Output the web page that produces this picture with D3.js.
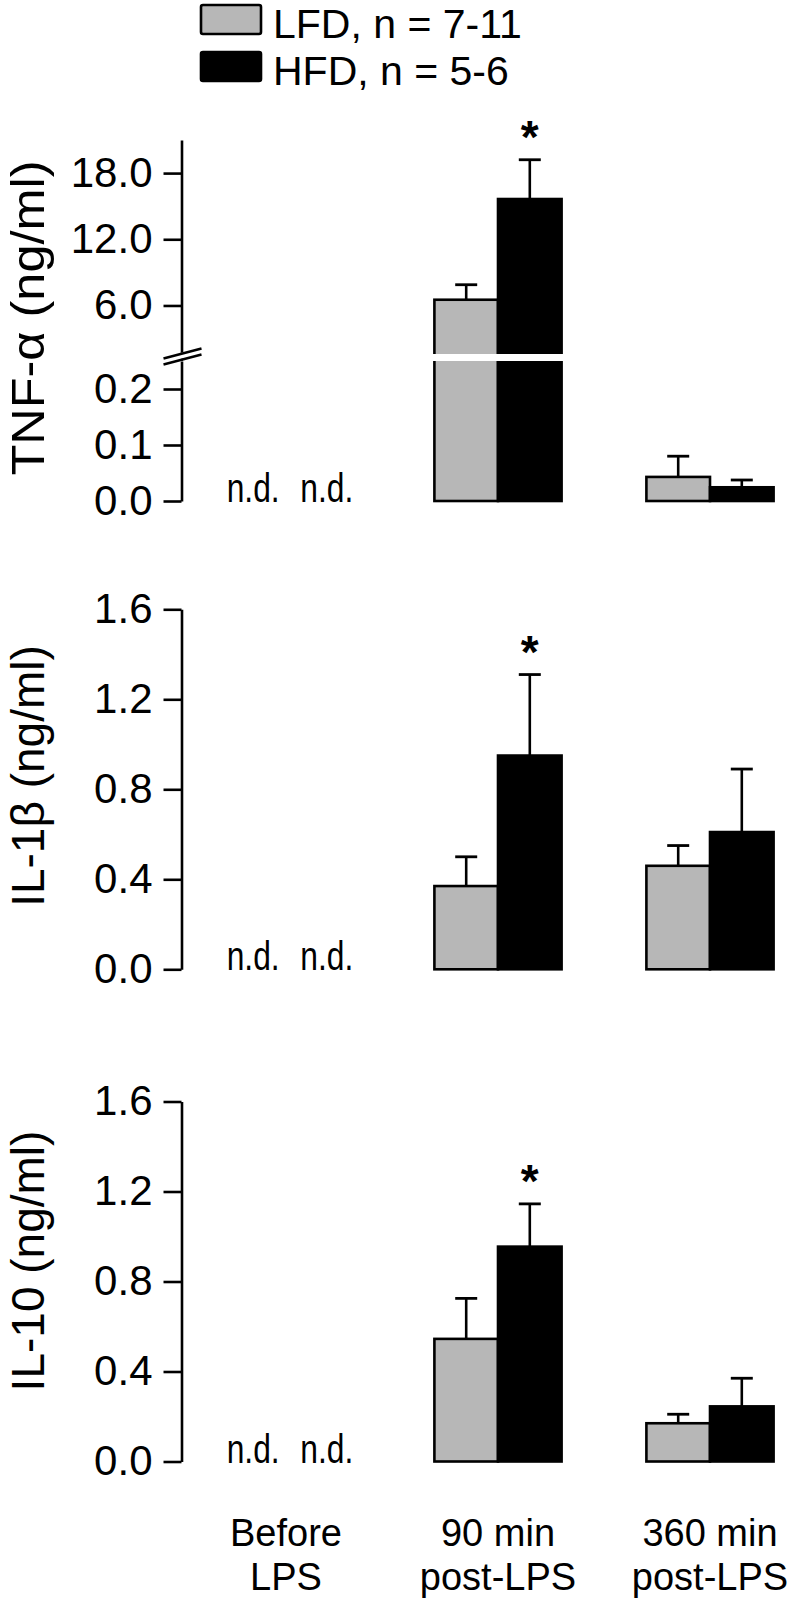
<!DOCTYPE html>
<html><head><meta charset="utf-8">
<script src="https://cdn.jsdelivr.net/npm/d3@7"></script>
<style>
body{margin:0;background:#fff}
svg text{font-family:Arial,"Liberation Sans",sans-serif;fill:#000}
</style>
</head><body>
<svg id="c" width="800" height="1601"></svg>
<script>
// ---------- data ----------
const categories = ["Before LPS", "90 min post-LPS", "360 min post-LPS"];
const categoryLines = [["Before", "LPS"], ["90 min", "post-LPS"], ["360 min", "post-LPS"]];
const groups = ["LFD, n = 7-11", "HFD, n = 5-6"];
const groupColors = ["#b7b7b7", "#000000"];

// null = not detected (n.d.)
const tnfLFD    = [null, 6.52, 0.043];
const tnfLFDerr = [null, 1.36, 0.037];
const tnfHFD    = [null, 15.65, 0.0245];
const tnfHFDerr = [null, 3.56, 0.013];
const tnfSig    = [false, true, false];

const il1bLFD    = [null, 0.37, 0.46];
const il1bLFDerr = [null, 0.13, 0.09];
const il1bHFD    = [null, 0.95, 0.61];
const il1bHFDerr = [null, 0.36, 0.28];
const il1bSig    = [false, true, false];

const il10LFD    = [null, 0.545, 0.17];
const il10LFDerr = [null, 0.18, 0.04];
const il10HFD    = [null, 0.955, 0.245];
const il10HFDerr = [null, 0.19, 0.125];
const il10Sig    = [false, true, false];

const tnfLowTicks  = [0, 0.1, 0.2];
const tnfHighTicks = [6, 12, 18];
const cytoTicks    = [0, 0.4, 0.8, 1.2, 1.6];

// ---------- scales ----------
const svg = d3.select("#c");
const AX = 181.5;
const x0 = d3.scaleBand().domain(categories).range([180, 816]).paddingInner(0.4).paddingOuter(0.2);
const x1 = d3.scaleBand().domain(groups).range([0, x0.bandwidth()]);

const tnfLow  = d3.scaleLinear().domain([0, 0.25]).range([501, 361]);
const tnfHigh = d3.scaleLinear().domain([1.6, 21]).range([354, 140]);
const tnfY = v => v <= 0.25 ? tnfLow(v) : tnfHigh(v);

const il1bY = d3.scaleLinear().domain([0, 1.6]).range([969.3, 609.3]);
const il10Y = d3.scaleLinear().domain([0, 1.6]).range([1461.5, 1101.5]);

const fmt = d3.format(".1f");

function styleAxis(g) {
  g.attr("font-size", null).attr("font-family", null);
  g.select(".domain").attr("stroke", "#000").attr("stroke-width", 2.6);
  g.selectAll(".tick line").attr("stroke", "#000").attr("stroke-width", 2.6);
  g.selectAll(".tick text").style("font-size", "42px").attr("fill", "#000");
}
function drawAxis(scale, ticks) {
  const g = svg.append("g").attr("transform", `translate(${AX},0)`)
    .call(d3.axisLeft(scale).tickValues(ticks).tickFormat(fmt)
      .tickSize(18).tickSizeOuter(0).tickPadding(11));
  styleAxis(g);
}

// ---------- legend ----------
const legendY = [5, 52];
groups.forEach((gname, i) => {
  svg.append("rect").attr("x", 201).attr("y", legendY[i]).attr("width", 60).attr("height", 29)
    .attr("rx", 2).attr("fill", groupColors[i]).attr("stroke", "#000").attr("stroke-width", 2.6);
  svg.append("text").attr("x", 273).attr("y", legendY[i] + 33).style("font-size", "41px").text(gname);
});

// ---------- panels ----------
const panels = [
  {title: "TNF-\u03b1 (ng/ml)", len: 315, y: tnfY, base: tnfLow(0), lfd: tnfLFD, lfdE: tnfLFDerr, hfd: tnfHFD, hfdE: tnfHFDerr, sig: tnfSig, titleY: 318},
  {title: "IL-1\u03b2 (ng/ml)", len: null, y: il1bY, base: il1bY(0), lfd: il1bLFD, lfdE: il1bLFDerr, hfd: il1bHFD, hfdE: il1bHFDerr, sig: il1bSig, titleY: 776},
  {title: "IL-10 (ng/ml)", len: null, y: il10Y, base: il10Y(0), lfd: il10LFD, lfdE: il10LFDerr, hfd: il10HFD, hfdE: il10HFDerr, sig: il10Sig, titleY: 1261}
];

// axes
drawAxis(tnfLow, tnfLowTicks);
drawAxis(tnfHigh, tnfHighTicks);
drawAxis(il1bY, cytoTicks);
drawAxis(il10Y, cytoTicks);
svg.append("line").attr("x1", AX).attr("x2", AX).attr("y1", tnfLow(0.25)).attr("y2", tnfHigh(1.6))
  .attr("stroke", "#000").attr("stroke-width", 2.6);

panels.forEach((p) => {
  const tt = svg.append("text")
    .attr("transform", `translate(44,${p.titleY}) rotate(-90)`)
    .attr("text-anchor", "middle").style("font-size", "46px").text(p.title);
  if (p.len) tt.attr("textLength", p.len).attr("lengthAdjust", "spacingAndGlyphs");

  const series = [{v: p.lfd, e: p.lfdE}, {v: p.hfd, e: p.hfdE}];
  categories.forEach((cat, ci) => {
    series.forEach((s, gi) => {
      const val = s.v[ci];
      const bx = x0(cat) + x1(groups[gi]);
      const bw = x1.bandwidth();
      if (val === null) {
        svg.append("text")
          .attr("x", bx + bw / 2 + (gi === 0 ? -1 : 9)).attr("y", p.base + 1)
          .attr("text-anchor", "middle")
          .attr("textLength", 53).attr("lengthAdjust", "spacingAndGlyphs")
          .style("font-size", "40px").text("n.d.");
        return;
      }
      const top = p.y(val);
      const errTop = p.y(val + s.e[ci]);
      const cx = bx + bw / 2;
      svg.append("line").attr("x1", cx).attr("x2", cx).attr("y1", top).attr("y2", errTop)
        .attr("stroke", "#000").attr("stroke-width", 2.6);
      svg.append("line").attr("x1", cx - 11).attr("x2", cx + 11).attr("y1", errTop).attr("y2", errTop)
        .attr("stroke", "#000").attr("stroke-width", 2.8);
      svg.append("rect").attr("x", bx).attr("y", top).attr("width", bw).attr("height", p.base - top)
        .attr("fill", groupColors[gi]).attr("stroke", "#000").attr("stroke-width", 2.6);
      if (p.sig[ci] && gi === 1) {
        svg.append("text").attr("x", cx).attr("y", errTop - 7)
          .attr("text-anchor", "middle").style("font-size", "46px").style("font-weight", "bold").text("*");
      }
    });
  });
});

// white gap in broken TNF bars
categories.forEach((cat, ci) => {
  if ((tnfLFD[ci] !== null && tnfLFD[ci] > 0.25) || (tnfHFD[ci] !== null && tnfHFD[ci] > 0.25)) {
    svg.append("rect").attr("x", x0(cat) - 3).attr("y", tnfHigh(1.6)).attr("width", x0.bandwidth() + 6)
      .attr("height", tnfLow(0.25) - tnfHigh(1.6)).attr("fill", "#fff");
  }
});

// axis break marks
const bm = svg.append("g");
const by = (tnfHigh(1.6) + tnfLow(0.25)) / 2;
bm.append("path")
  .attr("d", `M${AX - 18},${by + 6} L${AX + 20},${by - 4} L${AX + 20},${by - 10} L${AX - 18},${by} Z`)
  .attr("fill", "#fff");
bm.append("line").attr("x1", AX - 18).attr("y1", by + 7).attr("x2", AX + 20).attr("y2", by - 3)
  .attr("stroke", "#000").attr("stroke-width", 2.4);
bm.append("line").attr("x1", AX - 18).attr("y1", by + 1).attr("x2", AX + 20).attr("y2", by - 9)
  .attr("stroke", "#000").attr("stroke-width", 2.4);

// category labels
categories.forEach((cat, ci) => {
  const t = svg.append("text").attr("text-anchor", "middle").style("font-size", "38px");
  categoryLines[ci].forEach((line, li) => {
    t.append("tspan").attr("x", x0(cat) + x0.bandwidth() / 2).attr("y", 1546 + li * 44).text(line);
  });
});
</script>
</body></html>
